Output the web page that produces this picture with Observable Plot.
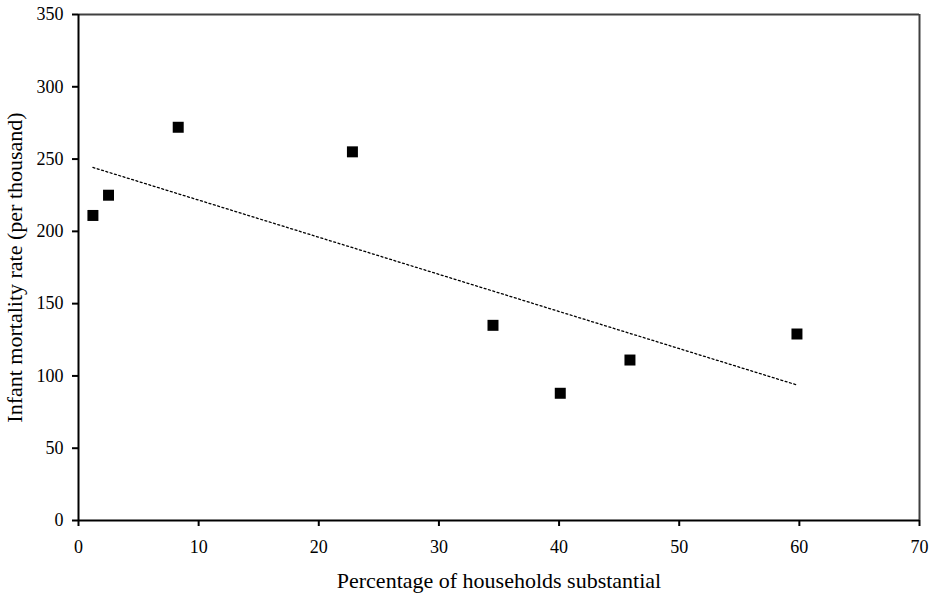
<!DOCTYPE html>
<html>
<head>
<meta charset="utf-8">
<script src="https://cdn.jsdelivr.net/npm/d3@7"></script>
<script src="https://cdn.jsdelivr.net/npm/@observablehq/plot@0.6"></script>
<style>
  html, body { margin: 0; padding: 0; background: #fff; }
</style>
</head>
<body>
<div id="chart"></div>
<script>
const households = [1.2, 2.5, 8.3, 22.8, 34.5, 40.1, 45.9, 59.8];
const mortality = [211, 225, 272, 255, 135, 88, 111, 129];
const xTicks = [0, 10, 20, 30, 40, 50, 60, 70];
const yTicks = [0, 50, 100, 150, 200, 250, 300, 350];
const xLabel = "Percentage of households substantial";
const yLabel = "Infant mortality rate (per thousand)";

const data = households.map((x, i) => ({x, y: mortality[i]}));
const font = "Liberation Serif";

const chart = Plot.plot({
  width: 936,
  height: 603,
  marginLeft: 78,
  marginRight: 17,
  marginTop: 14,
  marginBottom: 83,
  style: {fontFamily: font, fontSize: "18px", color: "black", background: "white"},
  x: {domain: [0, 70]},
  y: {domain: [0, 350]},
  marks: [
    Plot.ruleY([350], {stroke: "#404040", strokeWidth: 2}),
    Plot.ruleX([70], {stroke: "#404040", strokeWidth: 2}),
    Plot.ruleX([0], {stroke: "black", strokeWidth: 2}),
    Plot.ruleY([0], {stroke: "black", strokeWidth: 2}),
    Plot.axisX({ticks: xTicks, tickSize: 6, tickPadding: 14, label: null, stroke: "black", strokeWidth: 2, fontSize: 18, fontFamily: font, tickFormat: d => String(d)}),
    Plot.axisY({ticks: yTicks, tickSize: 6, tickPadding: 9, label: null, stroke: "black", strokeWidth: 2, fontSize: 18, fontFamily: font, tickFormat: d => String(d)}),
    Plot.linearRegressionY(data, {x: "x", y: "y", ci: 0, stroke: "black", strokeWidth: 1.3, strokeDasharray: "2,2.5"}),
    Plot.dot(data, {x: "x", y: "y", symbol: "square", r: 6.2, fill: "black", stroke: "none"}),
    Plot.text([xLabel], {text: d => d, frameAnchor: "bottom", textAnchor: "middle", dy: 67, fontSize: 22, fontFamily: font, fill: "black"}),
    Plot.text([yLabel], {text: d => d, frameAnchor: "left", textAnchor: "middle", dx: -64, rotate: -90, fontSize: 22, fontFamily: font, fill: "black"})
  ]
});
document.getElementById("chart").appendChild(chart);
</script>
</body>
</html>
